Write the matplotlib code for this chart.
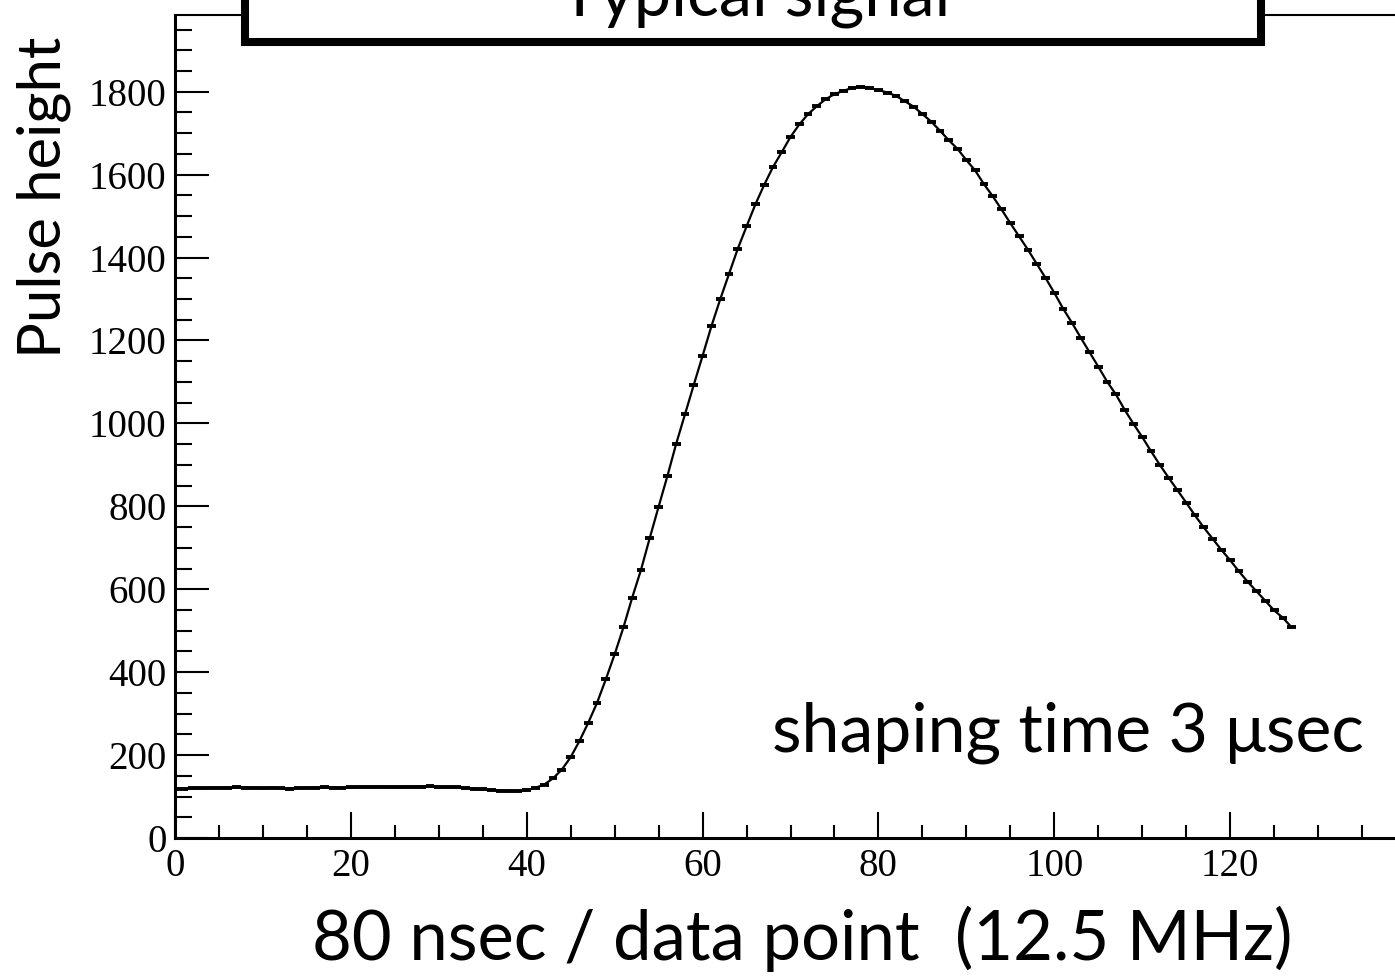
import numpy as np
import matplotlib
matplotlib.use("Agg")
import matplotlib.pyplot as plt
from matplotlib.patches import Rectangle
from matplotlib.ticker import MultipleLocator

# pulse samples, one per 80 ns data point
samples = np.arange(128)
pulse = [
    118, 119, 120, 120, 121, 121, 121, 122, 121, 121,
    120, 121, 120, 119, 120, 121, 121, 122, 121, 121,
    122, 123, 123, 124, 123, 122, 123, 124, 124, 125,
    123, 122, 122, 121, 119, 117, 116, 114, 113, 113,
    115, 121, 129, 144, 165, 195, 234, 278, 326, 383,
    443, 508, 580, 647, 724, 799, 873, 951, 1022, 1093,
    1163, 1234, 1299, 1360, 1421, 1475, 1528, 1575, 1618, 1654,
    1691, 1721, 1746, 1765, 1782, 1794, 1802, 1809, 1812, 1809,
    1804, 1798, 1790, 1777, 1764, 1746, 1728, 1706, 1683, 1662,
    1635, 1610, 1577, 1548, 1516, 1483, 1451, 1419, 1385, 1351,
    1315, 1277, 1243, 1207, 1172, 1137, 1101, 1070, 1033, 999,
    967, 933, 900, 869, 839, 809, 778, 749, 722, 695,
    670, 643, 618, 595, 572, 549, 531, 508,
]
xticks = [0, 20, 40, 60, 80, 100, 120]

title = "Typical signal"
xlabel = "80 nsec / data point  (12.5 MHz)"
ylabel = "Pulse height"
note = "shaping time 3 \u03bcsec"

W, H = 1395, 976
fig = plt.figure(figsize=(W / 100, H / 100), dpi=100)
ax = fig.add_axes([175 / W, 138 / H, 1231 / W, 823 / H])

ax.errorbar(samples, pulse, xerr=0.5, fmt="-", color="black",
            lw=1.6, elinewidth=2.8, capsize=0)

ax.set_xlim(0, 140)
ax.set_ylim(0, 1985)

ax.set_xticks(xticks)
ax.xaxis.set_minor_locator(MultipleLocator(5))
ax.yaxis.set_major_locator(MultipleLocator(200))
ax.yaxis.set_minor_locator(MultipleLocator(50))

serif = "Liberation Serif"
ax.tick_params(axis="y", which="major", direction="in", length=24.5, width=1.5,
               pad=6, labelsize=28)
ax.tick_params(axis="y", which="minor", direction="in", length=12.2, width=1.5)
ax.tick_params(axis="x", which="major", direction="in", length=18.7, width=1.5,
               pad=7, labelsize=28)
ax.tick_params(axis="x", which="minor", direction="in", length=9.4, width=1.5)
for lab in ax.get_xticklabels() + ax.get_yticklabels():
    lab.set_fontfamily(serif)

ax.spines["left"].set_linewidth(2.2)
ax.spines["bottom"].set_linewidth(2.2)
ax.spines["top"].set_linewidth(1.5)
ax.spines["right"].set_visible(False)

sans = "Lato"
fig.text(44 / W, 1 - 197 / H, ylabel, rotation=90, ha="center", va="center",
         fontsize=43, family=sans)
fig.text(802 / W, 1 - 960 / H, xlabel, ha="center", va="baseline",
         fontsize=49.5, family=sans)
fig.text(772 / W, 1 - 752 / H, note, ha="left", va="baseline",
         fontsize=49, family=sans)

# title box, mostly cut off at the top edge
box = Rectangle((245 / W, 1 - 42 / H), (1261 - 245) / W, 0.2,
                transform=fig.transFigure, facecolor="white", edgecolor="black",
                lw=5.8, clip_on=False, zorder=5)
fig.patches.append(box)
fig.text(755 / W, 1 - 15 / H, title, ha="center", va="baseline",
         fontsize=48, family=sans, zorder=6)

fig.savefig("out.png", dpi=100)
